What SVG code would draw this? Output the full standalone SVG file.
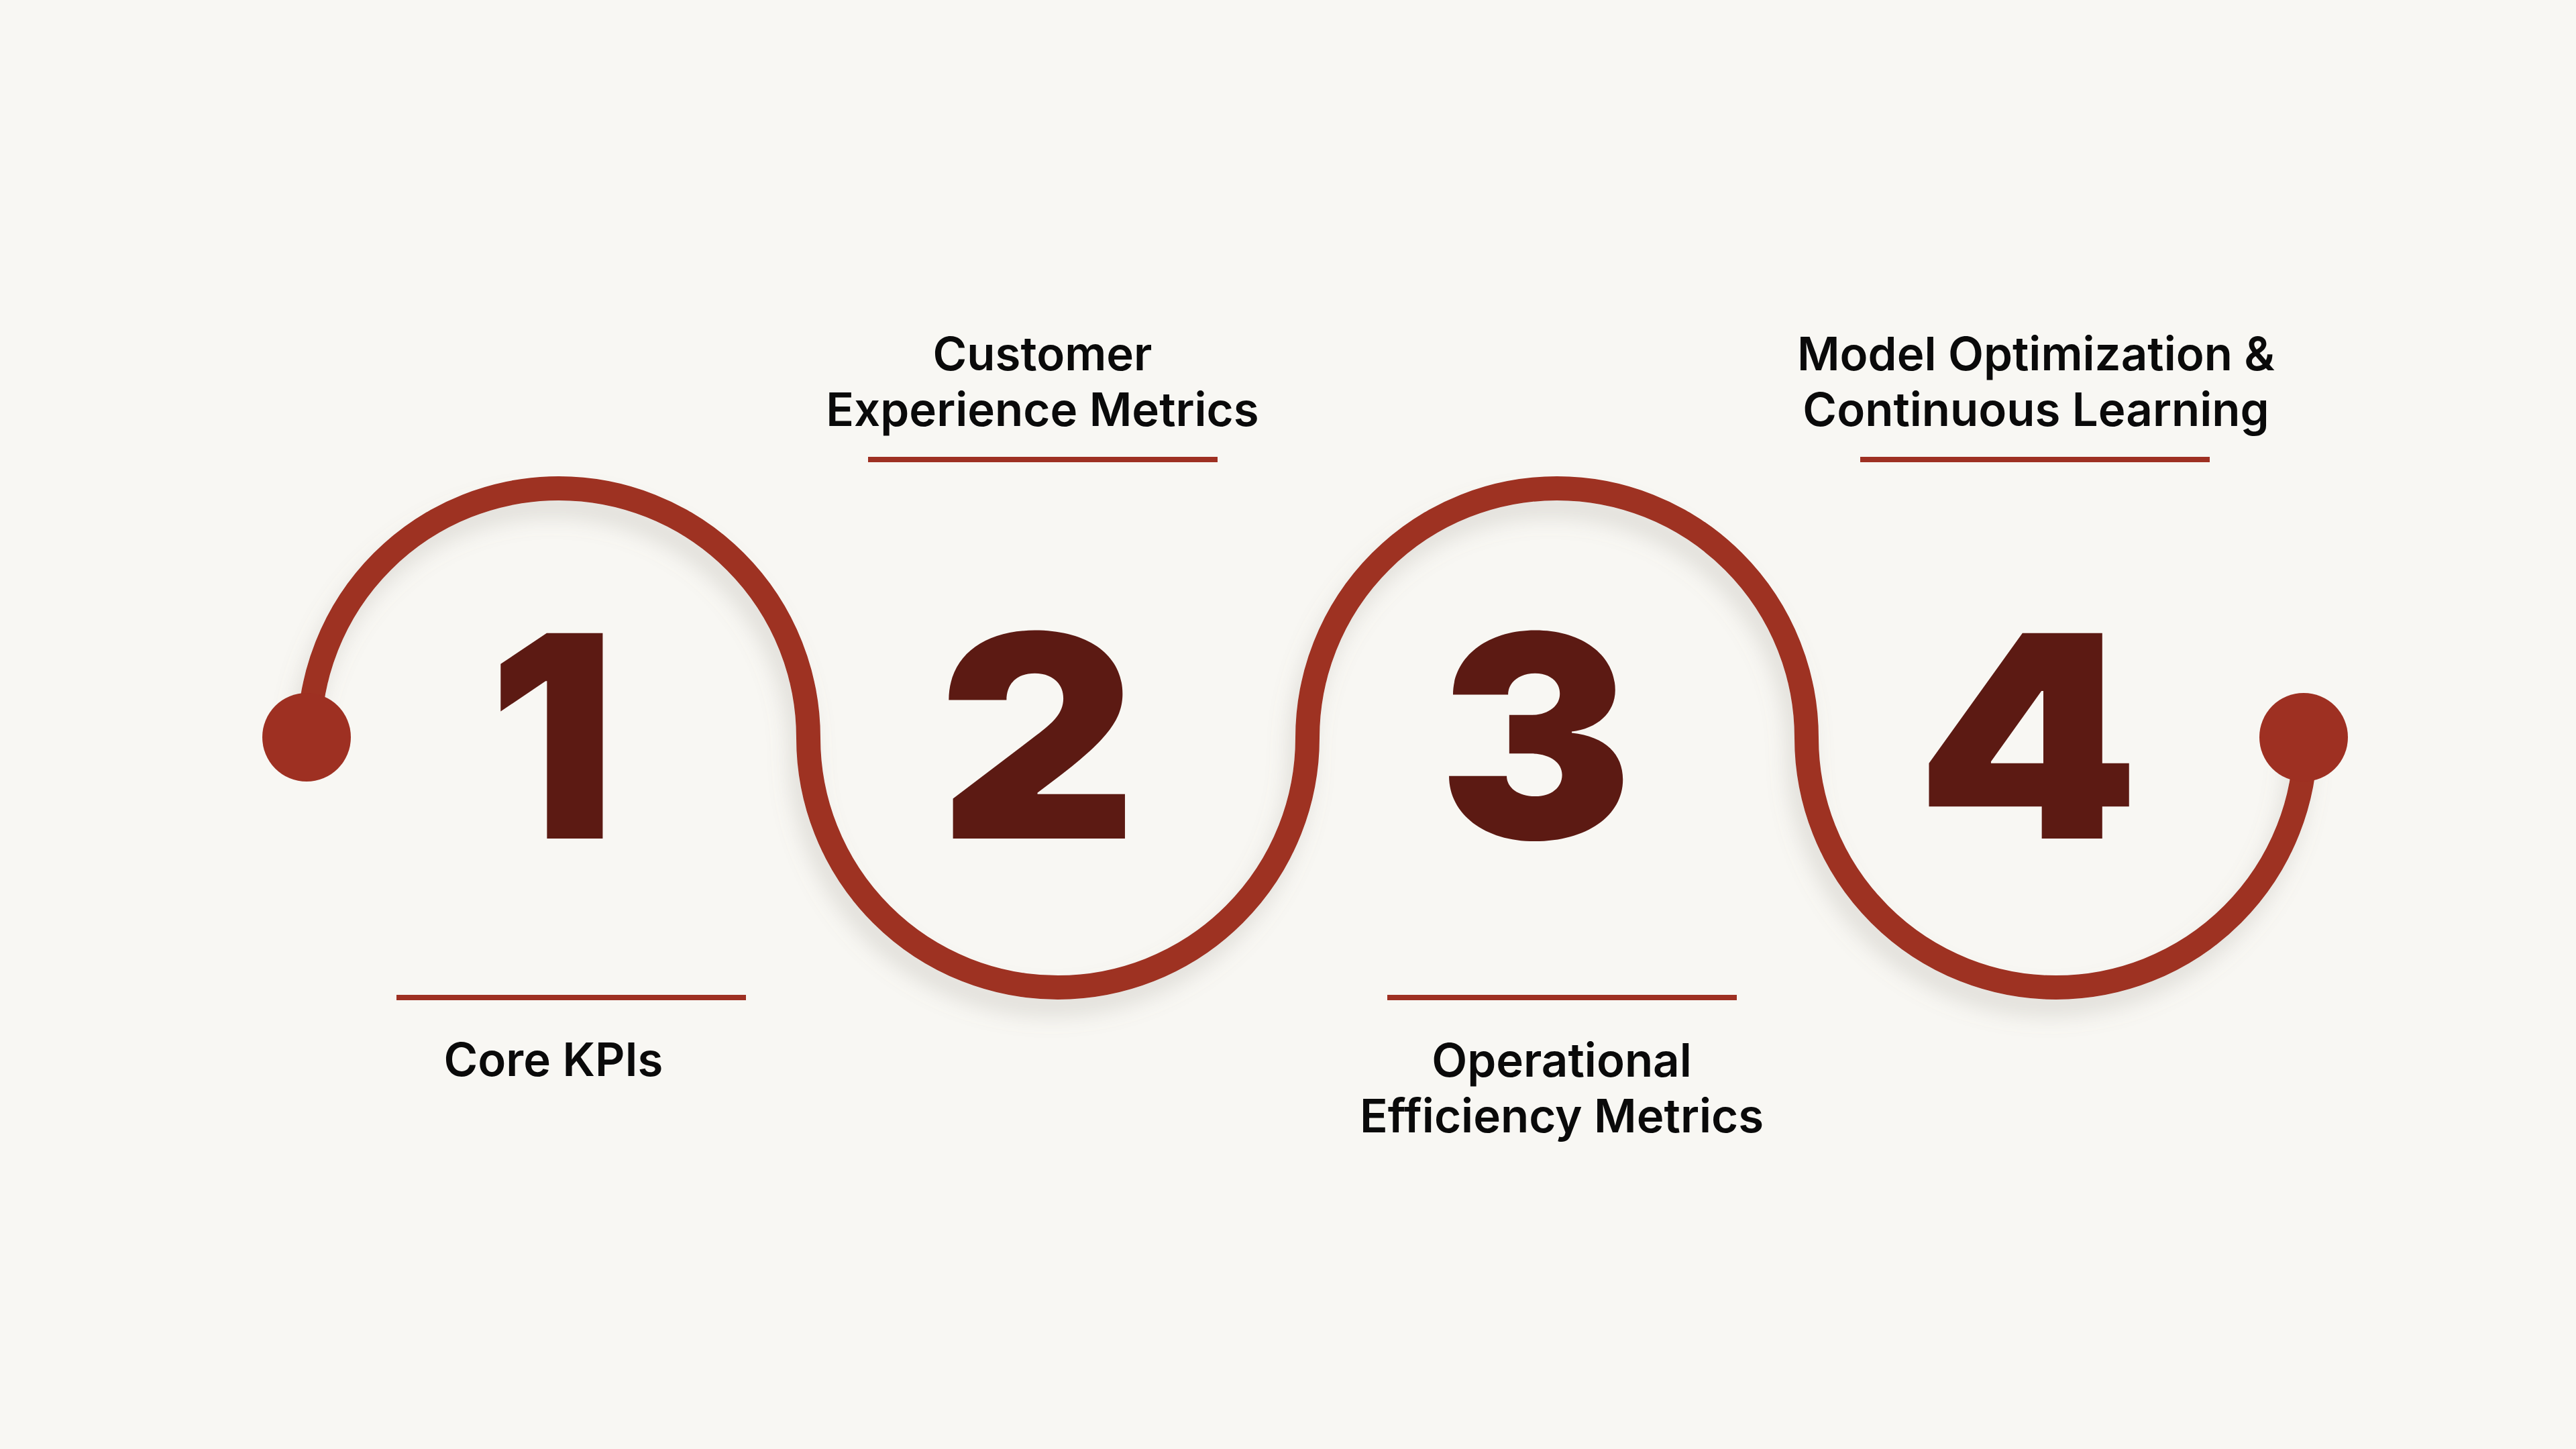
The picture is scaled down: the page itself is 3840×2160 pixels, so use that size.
<svg xmlns="http://www.w3.org/2000/svg" width="3840" height="2160" viewBox="0 0 3840 2160">
  <defs>
    <filter id="shadow" x="-20%" y="-20%" width="140%" height="140%">
      <feGaussianBlur in="SourceAlpha" stdDeviation="16"/>
      <feOffset dx="-10" dy="24" result="b"/>
      <feFlood flood-color="#8a857a" flood-opacity="0.22"/>
      <feComposite in2="b" operator="in"/>
      <feMerge>
        <feMergeNode/>
        <feMergeNode in="SourceGraphic"/>
      </feMerge>
    </filter>
    <style>
      .wave { fill: none; stroke: #9e3022; stroke-width: 36; }
      .dot { fill: #9e3022; }
      .num { font-family: Inter, Lato, "Open Sans", "DejaVu Sans", sans-serif; font-weight: 900; font-size: 421px; fill: #5c1a13; text-anchor: middle; }
      .label { font-family: Inter, "Liberation Sans", Arial, sans-serif; font-weight: 600; font-size: 69px; fill: #0a0a0a; text-anchor: middle; }
      .rule { fill: #9e3022; }
    </style>
  </defs>
  <rect width="3840" height="2160" fill="#f8f7f3"/>

  <g id="connectors" filter="url(#shadow)">
    <path class="wave" d="M 461 1100 A 372 372 0 0 1 1205 1100 A 372 372 0 0 0 1949 1100 A 372 372 0 0 1 2693 1100 A 372 372 0 0 0 3437 1100"/>
  </g>

  <g id="endpoints">
    <circle class="dot" cx="457" cy="1099" r="66"/>
    <circle class="dot" cx="3434" cy="1099" r="66"/>
  </g>

  <g id="step1">
    <text class="num" x="823" y="1250">1</text>
    <rect class="rule" x="591" y="1483" width="521" height="8"/>
    <text class="label" x="825" y="1604">Core KPIs</text>
  </g>

  <g id="step2">
    <text class="num" transform="translate(1547 1250) scale(1.09 1)">2</text>
    <text class="label" x="1554" y="552">Customer</text>
    <text class="label" x="1554" y="635">Experience Metrics</text>
    <rect class="rule" x="1294" y="681" width="521" height="8"/>
  </g>

  <g id="step3">
    <text class="num" transform="translate(2289 1250) scale(1.03 1)">3</text>
    <rect class="rule" x="2068" y="1483" width="521" height="8"/>
    <text class="label" x="2328" y="1605">Operational</text>
    <text class="label" x="2328" y="1688">Efficiency Metrics</text>
  </g>

  <g id="step4">
    <text class="num" transform="translate(3023 1250) scale(1.13 1)">4</text>
    <text class="label" x="3035" y="552">Model Optimization &amp;</text>
    <text class="label" x="3035" y="635">Continuous Learning</text>
    <rect class="rule" x="2773" y="681" width="521" height="8"/>
  </g>
</svg>
